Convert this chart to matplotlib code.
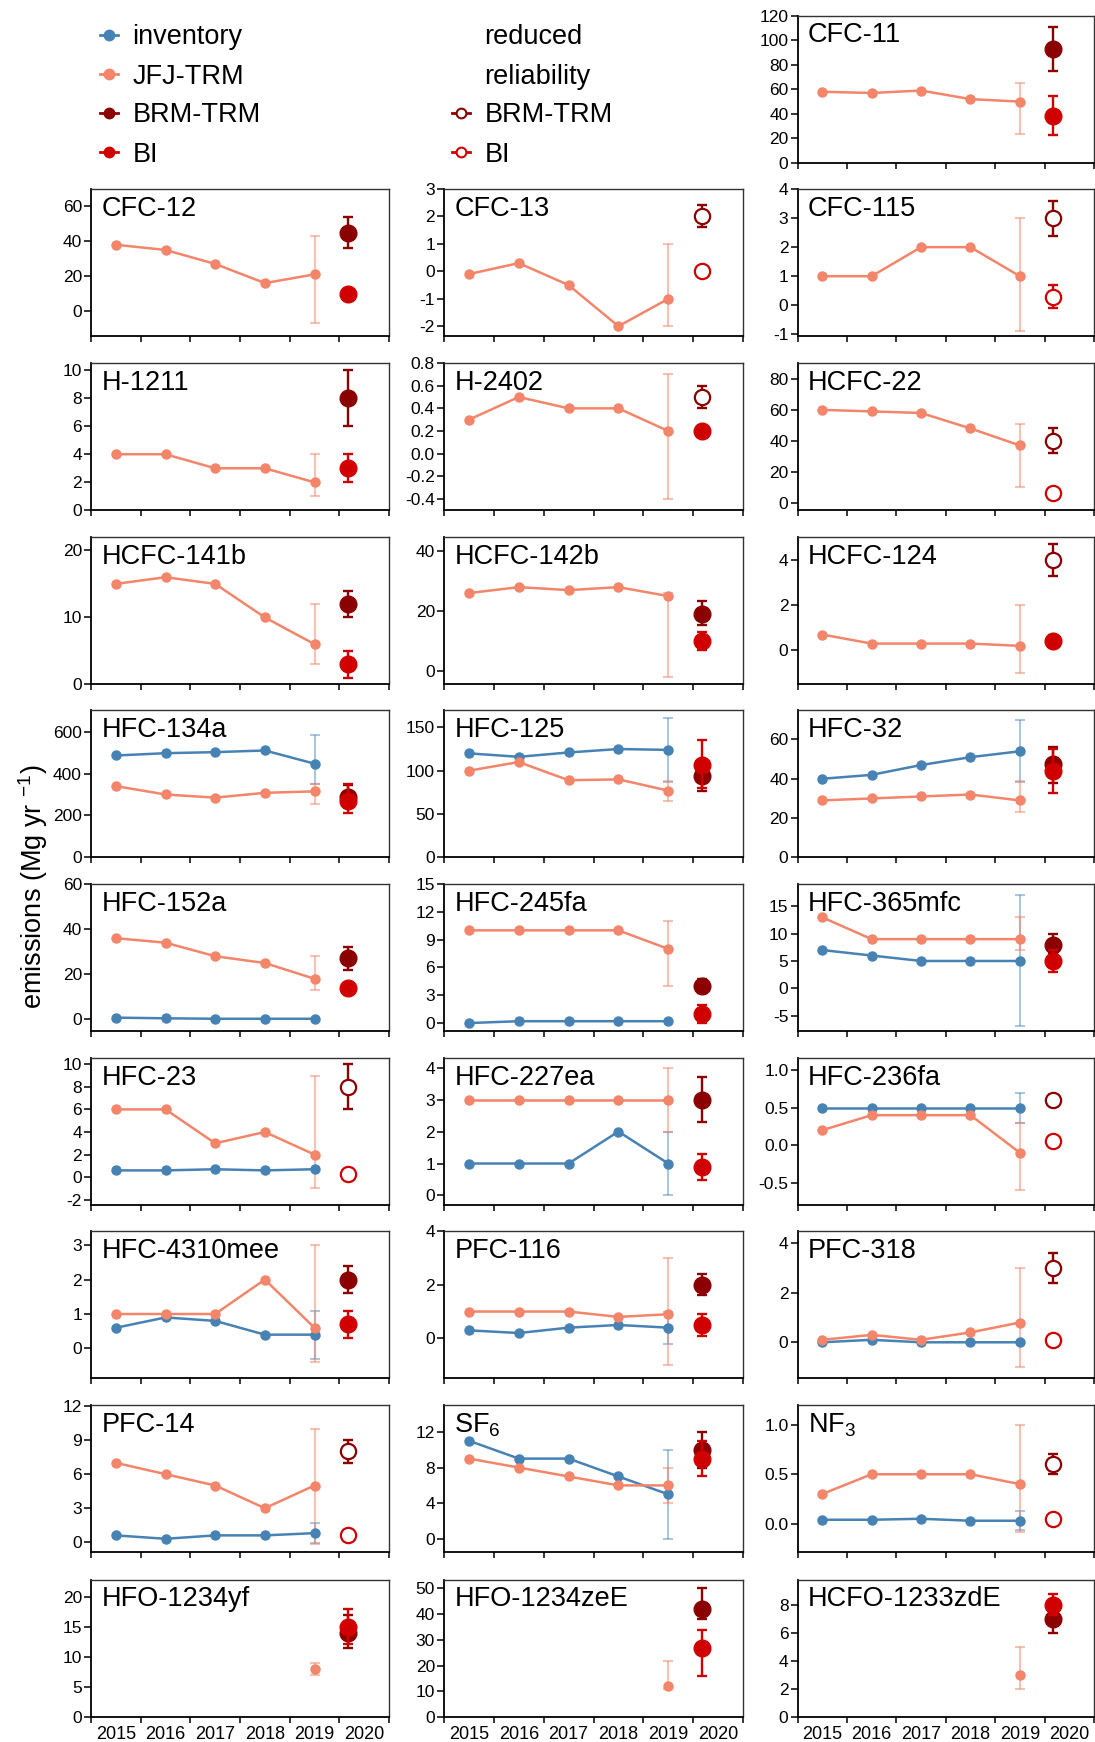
import numpy as np
import matplotlib
matplotlib.use('Agg')
import matplotlib.pyplot as plt
from matplotlib.lines import Line2D
from matplotlib.ticker import FixedLocator, FixedFormatter, FormatStrFormatter, NullFormatter

plt.rcParams['font.family'] = ['Liberation Sans', 'DejaVu Sans']
plt.rcParams['mathtext.fontset'] = 'custom'
plt.rcParams['mathtext.rm'] = 'Liberation Sans'
plt.rcParams['mathtext.it'] = 'Liberation Sans:italic'
plt.rcParams['mathtext.default'] = 'regular'
plt.rcParams['axes.unicode_minus'] = False

# ---- data -------------------------------------------------------------
years = [2015, 2016, 2017, 2018, 2019]
year_labels = ['2015', '2016', '2017', '2018', '2019', '2020']
campaign_year = 2020.17   # BRM-TRM / BI campaign estimate

species = ['CFC-11', 'CFC-12', 'CFC-13', 'CFC-115', 'H-1211', 'H-2402', 'HCFC-22',
           'HCFC-141b', 'HCFC-142b', 'HCFC-124', 'HFC-134a', 'HFC-125', 'HFC-32',
           'HFC-152a', 'HFC-245fa', 'HFC-365mfc', 'HFC-23', 'HFC-227ea', 'HFC-236fa',
           'HFC-4310mee', 'PFC-116', 'PFC-318', 'PFC-14', 'SF$_6$', 'NF$_3$',
           'HFO-1234yf', 'HFO-1234zeE', 'HCFO-1233zdE']

jfj_vals = [
    [58, 57, 59, 52, 50], [38, 35, 27, 16, 21], [-0.1, 0.3, -0.5, -2, -1], [1, 1, 2, 2, 1],
    [4, 4, 3, 3, 2], [0.3, 0.5, 0.4, 0.4, 0.2], [60, 59, 58, 48, 37],
    [15, 16, 15, 10, 6], [26, 28, 27, 28, 25], [0.7, 0.3, 0.3, 0.3, 0.2],
    [340, 300, 285, 308, 315], [100, 110, 89, 90, 77], [29, 30, 31, 32, 29],
    [36, 34, 28, 25, 18], [10, 10, 10, 10, 8], [13, 9, 9, 9, 9],
    [6, 6, 3, 4, 2], [3, 3, 3, 3, 3], [0.2, 0.4, 0.4, 0.4, -0.1],
    [1, 1, 1, 2, 0.6], [1, 1, 1, 0.8, 0.9], [0.1, 0.3, 0.1, 0.4, 0.8],
    [7, 6, 5, 3, 5], [9, 8, 7, 6, 6], [0.3, 0.5, 0.5, 0.5, 0.4],
    [None, None, None, None, 8], [None, None, None, None, 12], [None, None, None, None, 3],
]
jfj_err_2019 = [
    (24, 65), (-7, 43), (-2, 1), (-0.9, 3), (1, 4), (-0.4, 0.7), (10, 51),
    (3, 12), (-2, 26), (-1, 2), (254, 352), (65, 88), (23, 39),
    (13, 28), (4, 11), (7, 13), (-1, 9), (2, 4), (-0.6, 0.3),
    (-0.4, 3), (-1, 3), (-1, 3), (-0.2, 10), (4, 8), (-0.08, 1.0),
    (7, 9), (11, 22), (2, 5),
]
inv_vals = [
    None, None, None, None, None, None, None, None, None, None,
    [486, 497, 502, 510, 447], [120, 116, 121, 125, 124], [40, 42, 47, 51, 54],
    [0.8, 0.5, 0.3, 0.3, 0.3], [0.0, 0.2, 0.2, 0.2, 0.2], [7, 6, 5, 5, 5],
    [0.6, 0.6, 0.7, 0.6, 0.7], [1, 1, 1, 2, 1], [0.5, 0.5, 0.5, 0.5, 0.5],
    [0.6, 0.9, 0.8, 0.4, 0.4], [0.3, 0.2, 0.4, 0.5, 0.4], [0.0, 0.1, 0.0, 0.0, 0.0],
    [0.6, 0.3, 0.6, 0.6, 0.8], [11, 9, 9, 7, 5], [0.04, 0.04, 0.05, 0.03, 0.03],
    None, None, None,
]
inv_err_2019 = [
    None, None, None, None, None, None, None, None, None, None,
    (352, 584), (87, 161), (38.5, 70), None, None, (-7, 17),
    None, (0, 2), (0.3, 0.7), (-0.3, 1.1), (-0.2, 1.0), None,
    (-0.1, 1.7), (0, 10), (-0.06, 0.13), None, None, None,
]
brm_vals = [93, 45, 2.0, 3.0, 8, 0.5, 40, 12, 19, 4, 290, 94, 47.5, 27, 4, 8,
            8, 3, 0.6, 2, 2, 3, 8, 10, 0.6, 14, 42, 7]
brm_err = [(75, 111), (36, 54), (1.6, 2.43), (2.4, 3.6), (6, 10), (0.4, 0.6), (32.3, 48),
           (10, 14), (15.2, 23.2), (3.3, 4.7), (245, 345), (77, 107), (38, 56),
           (22, 32), (3.2, 4.8), (6.5, 10), (6, 10), (2.3, 3.7), (0.54, 0.67),
           (1.6, 2.4), (1.6, 2.4), (2.4, 3.6), (7, 9), (8, 12), (0.5, 0.7),
           (11.5, 17), (38, 50), (6, 8)]
bi_vals = [38, 10, 0.0, 0.3, 3, 0.2, 6, 3, 10, 0.4, 270, 107, 44, 14, 1, 5,
           0.3, 0.9, 0.05, 0.7, 0.5, 0.1, 0.6, 9, 0.05, 15, 27, 8]
bi_err = [(22.8, 54.5), None, None, (-0.08, 0.69), (2, 4), None, None,
          (1, 5), (7, 13), None, (210, 350), (80, 135), (33, 55),
          None, (0, 2), (3, 7), None, (0.5, 1.3), None,
          (0.3, 1.1), (0.1, 0.9), None, None, (7, 11), None,
          (12.2, 18), (16, 34), (7.3, 8.8)]
# reduced reliability (open symbols)
brm_reduced = ['CFC-13', 'CFC-115', 'H-2402', 'HCFC-22', 'HCFC-124', 'HFC-23',
               'HFC-236fa', 'PFC-318', 'PFC-14', 'NF$_3$']
bi_reduced = ['CFC-13', 'CFC-115', 'HCFC-22', 'HFC-23', 'HFC-236fa', 'PFC-318',
              'PFC-14', 'NF$_3$']

# ---- axis settings ----------------------------------------------------
ylims = [(0, 120), (-14.6, 70), (-2.37, 3), (-1.07, 4), (0, 10.5), (-0.5, 0.8),
         (-5, 90.3), (0, 22), (-4.6, 44.8), (-1.5, 5), (0, 703), (0, 170),
         (0, 75), (-5.3, 60), (-0.9, 15), (-7.9, 19.1), (-2.5, 10.55),
         (-0.31, 4.3), (-0.8, 1.16), (-0.87, 3.41), (-1.49, 4.0), (-1.46, 4.5),
         (-0.9, 12.1), (-1.5, 15), (-0.29, 1.2), (0, 23), (0, 53.4), (0, 9.83)]
yticks = [[0, 20, 40, 60, 80, 100, 120], [0, 20, 40, 60], [-2, -1, 0, 1, 2, 3],
          [-1, 0, 1, 2, 3, 4], [0, 2, 4, 6, 8, 10], [-0.4, -0.2, 0, 0.2, 0.4, 0.6, 0.8],
          [0, 20, 40, 60, 80], [0, 10, 20], [0, 20, 40], [0, 2, 4],
          [0, 200, 400, 600], [0, 50, 100, 150], [0, 20, 40, 60], [0, 20, 40, 60],
          [0, 3, 6, 9, 12, 15], [-5, 0, 5, 10, 15], [-2, 0, 2, 4, 6, 8, 10],
          [0, 1, 2, 3, 4], [-0.5, 0, 0.5, 1.0], [0, 1, 2, 3], [0, 2, 4], [0, 2, 4],
          [0, 3, 6, 9, 12], [0, 4, 8, 12], [0, 0.5, 1.0], [0, 5, 10, 15, 20],
          [0, 10, 20, 30, 40, 50], [0, 2, 4, 6, 8]]
decimal_ticks = ['H-2402', 'HFC-236fa', 'NF$_3$']

c_inv = '#4682B4'
c_jfj = '#F2856A'
c_brm = '#8B0000'
c_bi = '#D00000'

W, H = 1095, 1742
fig = plt.figure(figsize=(W / 100, H / 100), dpi=100)

col_left = [91, 444, 797.5]
col_w = [298, 299, 296.5]
row_top = [15.6, 189, 363, 537, 710, 884, 1058, 1231, 1405, 1579.5]
row_h = [147.4] * 9 + [137.8]

cells = [(0, 2)] + [(1 + i // 3, i % 3) for i in range(27)]


def err_pair(v, e):
    return [[v - e[0]], [e[1] - v]]


for i, name in enumerate(species):
    r, c = cells[i]
    ax = fig.add_axes([col_left[c] / W, 1 - (row_top[r] + row_h[r]) / H,
                       col_w[c] / W, row_h[r] / H])
    xs = np.array(years) + 0.5

    if inv_vals[i] is not None:
        iv = np.array(inv_vals[i], dtype=float)
        ax.plot(xs, iv, '-o', color=c_inv, lw=1.8, ms=6.5, zorder=3)
        if inv_err_2019[i] is not None:
            ax.errorbar([xs[-1]], [iv[-1]], yerr=err_pair(iv[-1], inv_err_2019[i]),
                        fmt='none', ecolor=c_inv, alpha=0.45, elinewidth=1.5,
                        capsize=3.5, capthick=1.5, zorder=2)

    jv = np.array([np.nan if v is None else v for v in jfj_vals[i]], dtype=float)
    ax.plot(xs, jv, '-o', color=c_jfj, lw=1.8, ms=6.5, zorder=3)
    ax.errorbar([xs[-1]], [jv[-1]], yerr=err_pair(jv[-1], jfj_err_2019[i]),
                fmt='none', ecolor=c_jfj, alpha=0.5, elinewidth=1.5,
                capsize=3.5, capthick=1.5, zorder=2)

    for val, err, col, reduced, z in [(brm_vals[i], brm_err[i], c_brm, name in brm_reduced, 4),
                                      (bi_vals[i], bi_err[i], c_bi, name in bi_reduced, 6)]:
        if err is not None:
            ax.errorbar([campaign_year], [val], yerr=err_pair(val, err), fmt='none',
                        ecolor=col, elinewidth=1.7, capsize=3.5, capthick=1.7, zorder=z)
        if reduced:
            ax.plot([campaign_year], [val], 'o', ms=11, mfc='white', mec=col, mew=1.6,
                    zorder=z + 1)
        else:
            ax.plot([campaign_year], [val], 'o', ms=12, mfc=col, mec=col, zorder=z + 1)

    ax.set_xlim(2015, 2021)
    ax.set_ylim(*ylims[i])
    ax.xaxis.set_major_locator(FixedLocator(range(2015, 2022)))
    ax.xaxis.set_major_formatter(NullFormatter())
    ax.xaxis.set_minor_locator(FixedLocator(np.arange(2015, 2021) + 0.5))
    if r == 9:
        ax.xaxis.set_minor_formatter(FixedFormatter(year_labels))
    else:
        ax.xaxis.set_minor_formatter(NullFormatter())
    ax.tick_params(axis='x', which='major', direction='out', length=4, width=1.1)
    ax.tick_params(axis='x', which='minor', length=0, pad=6, labelsize=13)
    ax.yaxis.set_major_locator(FixedLocator(yticks[i]))
    fmt = '%.1f' if name in decimal_ticks else '%d'
    ax.yaxis.set_major_formatter(FormatStrFormatter(fmt))
    ax.tick_params(axis='y', direction='out', length=5, width=1.1, pad=1.5, labelsize=12.5)
    for s in ['left', 'bottom']:
        ax.spines[s].set_linewidth(1.3)
        ax.spines[s].set_color('black')
    for s in ['top', 'right']:
        ax.spines[s].set_linewidth(1.0)
        ax.spines[s].set_color('#333333')
    ax.text(0.035, 0.955, name, transform=ax.transAxes, ha='left', va='top',
            fontsize=19.5)

fig.text(0.030, 1 - 887 / H, 'emissions (Mg yr $^{-1}$)', rotation=90,
         ha='center', va='center', fontsize=19.5)

h_kw = dict(lw=2, marker='o', ms=7, mew=1.5)
leg1 = [Line2D([], [], color=c_inv, mfc=c_inv, mec=c_inv, **h_kw),
        Line2D([], [], color=c_jfj, mfc=c_jfj, mec=c_jfj, **h_kw),
        Line2D([], [], color=c_brm, mfc=c_brm, mec=c_brm, **h_kw),
        Line2D([], [], color=c_bi, mfc=c_bi, mec=c_bi, **h_kw)]
leg2 = [Line2D([], [], linestyle='none'), Line2D([], [], linestyle='none'),
        Line2D([], [], color=c_brm, mfc='white', mec=c_brm, **h_kw),
        Line2D([], [], color=c_bi, mfc='white', mec=c_bi, **h_kw)]
common = dict(loc='upper left', frameon=False, fontsize=19.5, borderpad=0,
              borderaxespad=0, handlelength=0.65, handletextpad=0.55, labelspacing=0.48)
fig.legend(leg1, ['inventory', 'JFJ-TRM', 'BRM-TRM', 'BI'],
           bbox_to_anchor=(100 / W, 1 - 24.5 / H), **common)
fig.legend(leg2, ['reduced', 'reliability', 'BRM-TRM', 'BI'],
           bbox_to_anchor=(452 / W, 1 - 24.5 / H), **common)

fig.savefig('out.png', dpi=100)
